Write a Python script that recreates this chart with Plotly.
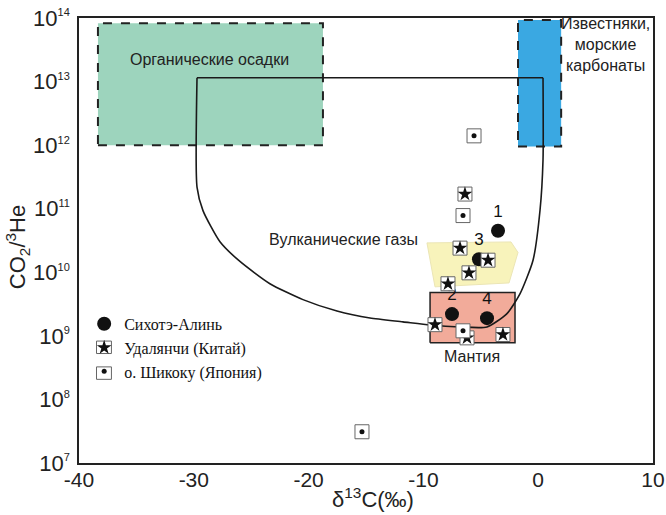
import numpy as np
import plotly.graph_objects as go

# ---- data ----
sikhote_x = [-3.5, -5.16, -7.51, -4.46]
sikhote_y = [4.5e10, 1.6e10, 2.2e9, 1.9e9]
sikhote_lbl = ["1", "3", "2", "4"]

udal_x = [-6.38, -6.81, -4.37, -6.03, -7.86, -8.99, -6.20, -3.07]
udal_y = [1.7e11, 2.4e10, 1.55e10, 9.8e9, 6.6e9, 1.5e9, 9.3e8, 1.05e9]

shik_x = [-5.59, -6.55, -6.55, -15.35]
shik_y = [1.4e12, 7.8e10, 1.2e9, 3.1e7]

# fields
org_x = [-38.35, -18.75]
org_y = [1e12, 8.3e13]
lime_x = [-1.76, 2.0]
lime_y = [9.5e11, 9.3e13]
mantle_x = [-9.42, -2.02]
mantle_y = [7.8e8, 4.8e9]
volc_poly_x = [-9.69, -2.37, -1.76, -2.54, -8.99]
volc_poly_y = [2.9e10, 3.0e10, 2.05e10, 6.8e9, 5.9e9]

curve_x = [-29.72, -29.72, -29.20, -27.72, -25.98, -23.37, -20.49, -17.53, -14.65,
           -11.78, -9.42, -6.81, -4.46, -2.72, -1.59, -0.45, 0.16, 0.42, 0.42]
curve_logy = [13.06, 11.34, 10.97, 10.48, 10.17, 9.82, 9.57, 9.39, 9.28,
              9.22, 9.17, 9.14, 9.14, 9.35, 9.66, 10.19, 10.98, 11.77, 13.06]

y_exponents = [7, 8, 9, 10, 11, 12, 13, 14]
y_tickvals = [10.0 ** e for e in y_exponents]
y_ticktext = ["10<sup><span style='font-size:11px'>%d</span></sup>" % e for e in y_exponents]
x_tickvals = [-40, -30, -20, -10, 0, 10]
x_ticktext = ["-40", "-30", "-20", "-10", "0", "10"]

FONT = "Liberation Sans, Arial, sans-serif"
SERIF = "Liberation Serif, Times New Roman, serif"
BOXLINE = "#666"

def rect(xs, ys):
    return [xs[0], xs[1], xs[1], xs[0], xs[0]], [ys[0], ys[0], ys[1], ys[1], ys[0]]

fig = go.Figure()

rx, ry = rect(org_x, org_y)
fig.add_trace(go.Scatter(x=rx, y=ry, mode="lines", fill="toself", fillcolor="#9dd4bd",
                         line=dict(color="#222", width=2, dash="dash"), showlegend=False, hoverinfo="skip"))
rx, ry = rect(lime_x, lime_y)
fig.add_trace(go.Scatter(x=rx, y=ry, mode="lines", fill="toself", fillcolor="#3aa8e2",
                         line=dict(color="#222", width=2, dash="dash"), showlegend=False, hoverinfo="skip"))
fig.add_trace(go.Scatter(x=volc_poly_x + volc_poly_x[:1], y=volc_poly_y + volc_poly_y[:1], mode="lines",
                         fill="toself", fillcolor="#f8f3bb", line=dict(color="#ebe5b5", width=1),
                         showlegend=False, hoverinfo="skip"))
rx, ry = rect(mantle_x, mantle_y)
fig.add_trace(go.Scatter(x=rx, y=ry, mode="lines", fill="toself", fillcolor="#f2ab9a",
                         line=dict(color="#222", width=1.5), showlegend=False, hoverinfo="skip"))

curve_y = [10 ** v for v in curve_logy]
fig.add_trace(go.Scatter(x=curve_x, y=curve_y, mode="lines",
                         line=dict(color="#1a1a1a", width=1.6, shape="spline", smoothing=0.6),
                         showlegend=False, hoverinfo="skip"))
fig.add_trace(go.Scatter(x=[curve_x[0], curve_x[-1]], y=[curve_y[0], curve_y[-1]], mode="lines",
                         line=dict(color="#1a1a1a", width=1.6),
                         showlegend=False, hoverinfo="skip"))

# markers
fig.add_trace(go.Scatter(x=sikhote_x, y=sikhote_y, mode="markers+text", text=sikhote_lbl,
                         textposition="top center", textfont=dict(family=FONT, size=17, color="#111"),
                         marker=dict(symbol="circle", size=14, color="#111"),
                         name="Сихотэ-Алинь"))
fig.add_trace(go.Scatter(x=udal_x, y=udal_y, mode="markers",
                         marker=dict(symbol="square", size=14, color="white",
                                     line=dict(color=BOXLINE, width=1)),
                         showlegend=False, hoverinfo="skip"))
fig.add_trace(go.Scatter(x=udal_x, y=udal_y, mode="markers",
                         marker=dict(symbol="star", size=11, color="#111", line=dict(width=0)),
                         name="Удалянчи (Китай)"))
fig.add_trace(go.Scatter(x=shik_x, y=shik_y, mode="markers",
                         marker=dict(symbol="square", size=14, color="white",
                                     line=dict(color=BOXLINE, width=1)),
                         showlegend=False, hoverinfo="skip"))
fig.add_trace(go.Scatter(x=shik_x, y=shik_y, mode="markers",
                         marker=dict(symbol="circle", size=5, color="#111"),
                         name="о. Шикоку (Япония)"))

ann = dict(font=dict(family=FONT, size=16, color="#222"), showarrow=False, xref="x", yref="y")
fig.add_annotation(x=-28.6, y=13.34, text="Органические осадки", **ann)
fig.add_annotation(x=5.9, y=13.58, text="Известняки,<br>морские<br>карбонаты", **ann)
fig.add_annotation(x=-17.0, y=10.51, text="Вулканические газы", **ann)
fig.add_annotation(x=-5.8, y=8.68, text="Мантия", **ann)

# axis titles
fig.add_annotation(xref="paper", yref="paper", x=-0.108, y=0.485, xanchor="center", yanchor="middle",
                   text="CO<sub>2</sub>/<sup>3</sup>He",
                   textangle=-90, showarrow=False, font=dict(family=FONT, size=22, color="#222"))
fig.add_annotation(xref="paper", yref="paper", x=0.512, y=-0.079, xanchor="center", yanchor="middle",
                   text="δ<sup>13</sup>C(‰)",
                   showarrow=False, font=dict(family=FONT, size=22, color="#222"))

# boxes around legend symbols (boxed markers)
for y0, y1 in [(0.246, 0.274), (0.188, 0.216)]:
    fig.add_shape(type="rect", xref="paper", yref="paper", x0=0.0305, x1=0.0565, y0=y0, y1=y1,
                  line=dict(color=BOXLINE, width=1), fillcolor="rgba(0,0,0,0)", layer="above")

fig.update_layout(
    width=666, height=515,
    margin=dict(l=79, r=13, t=18, b=52),
    paper_bgcolor="white", plot_bgcolor="white",
    font=dict(family=FONT, size=17, color="#222"),
    legend=dict(x=0.009, y=0.351, xanchor="left", yanchor="top",
                font=dict(family=SERIF, size=16, color="#111"),
                bgcolor="rgba(0,0,0,0)", tracegroupgap=0, itemwidth=30),
    xaxis=dict(range=[-40, 10], tickvals=x_tickvals, ticktext=x_ticktext, showgrid=False, zeroline=False,
               showline=True, linecolor="#222", linewidth=1.5, mirror=True, ticks="",
               tickfont=dict(size=21), automargin=False, ticklabelstandoff=-3),
    yaxis=dict(type="log", range=[7, 14], tickvals=y_tickvals, ticktext=y_ticktext,
               showgrid=False, zeroline=False, showline=True, linecolor="#222", linewidth=1.5,
               mirror=True, ticks="", tickfont=dict(size=22), automargin=False, ticklabelstandoff=3),
)

fig.write_html("out.html", config={"displayModeBar": False},
               post_script="document.body.style.margin='0px';")
